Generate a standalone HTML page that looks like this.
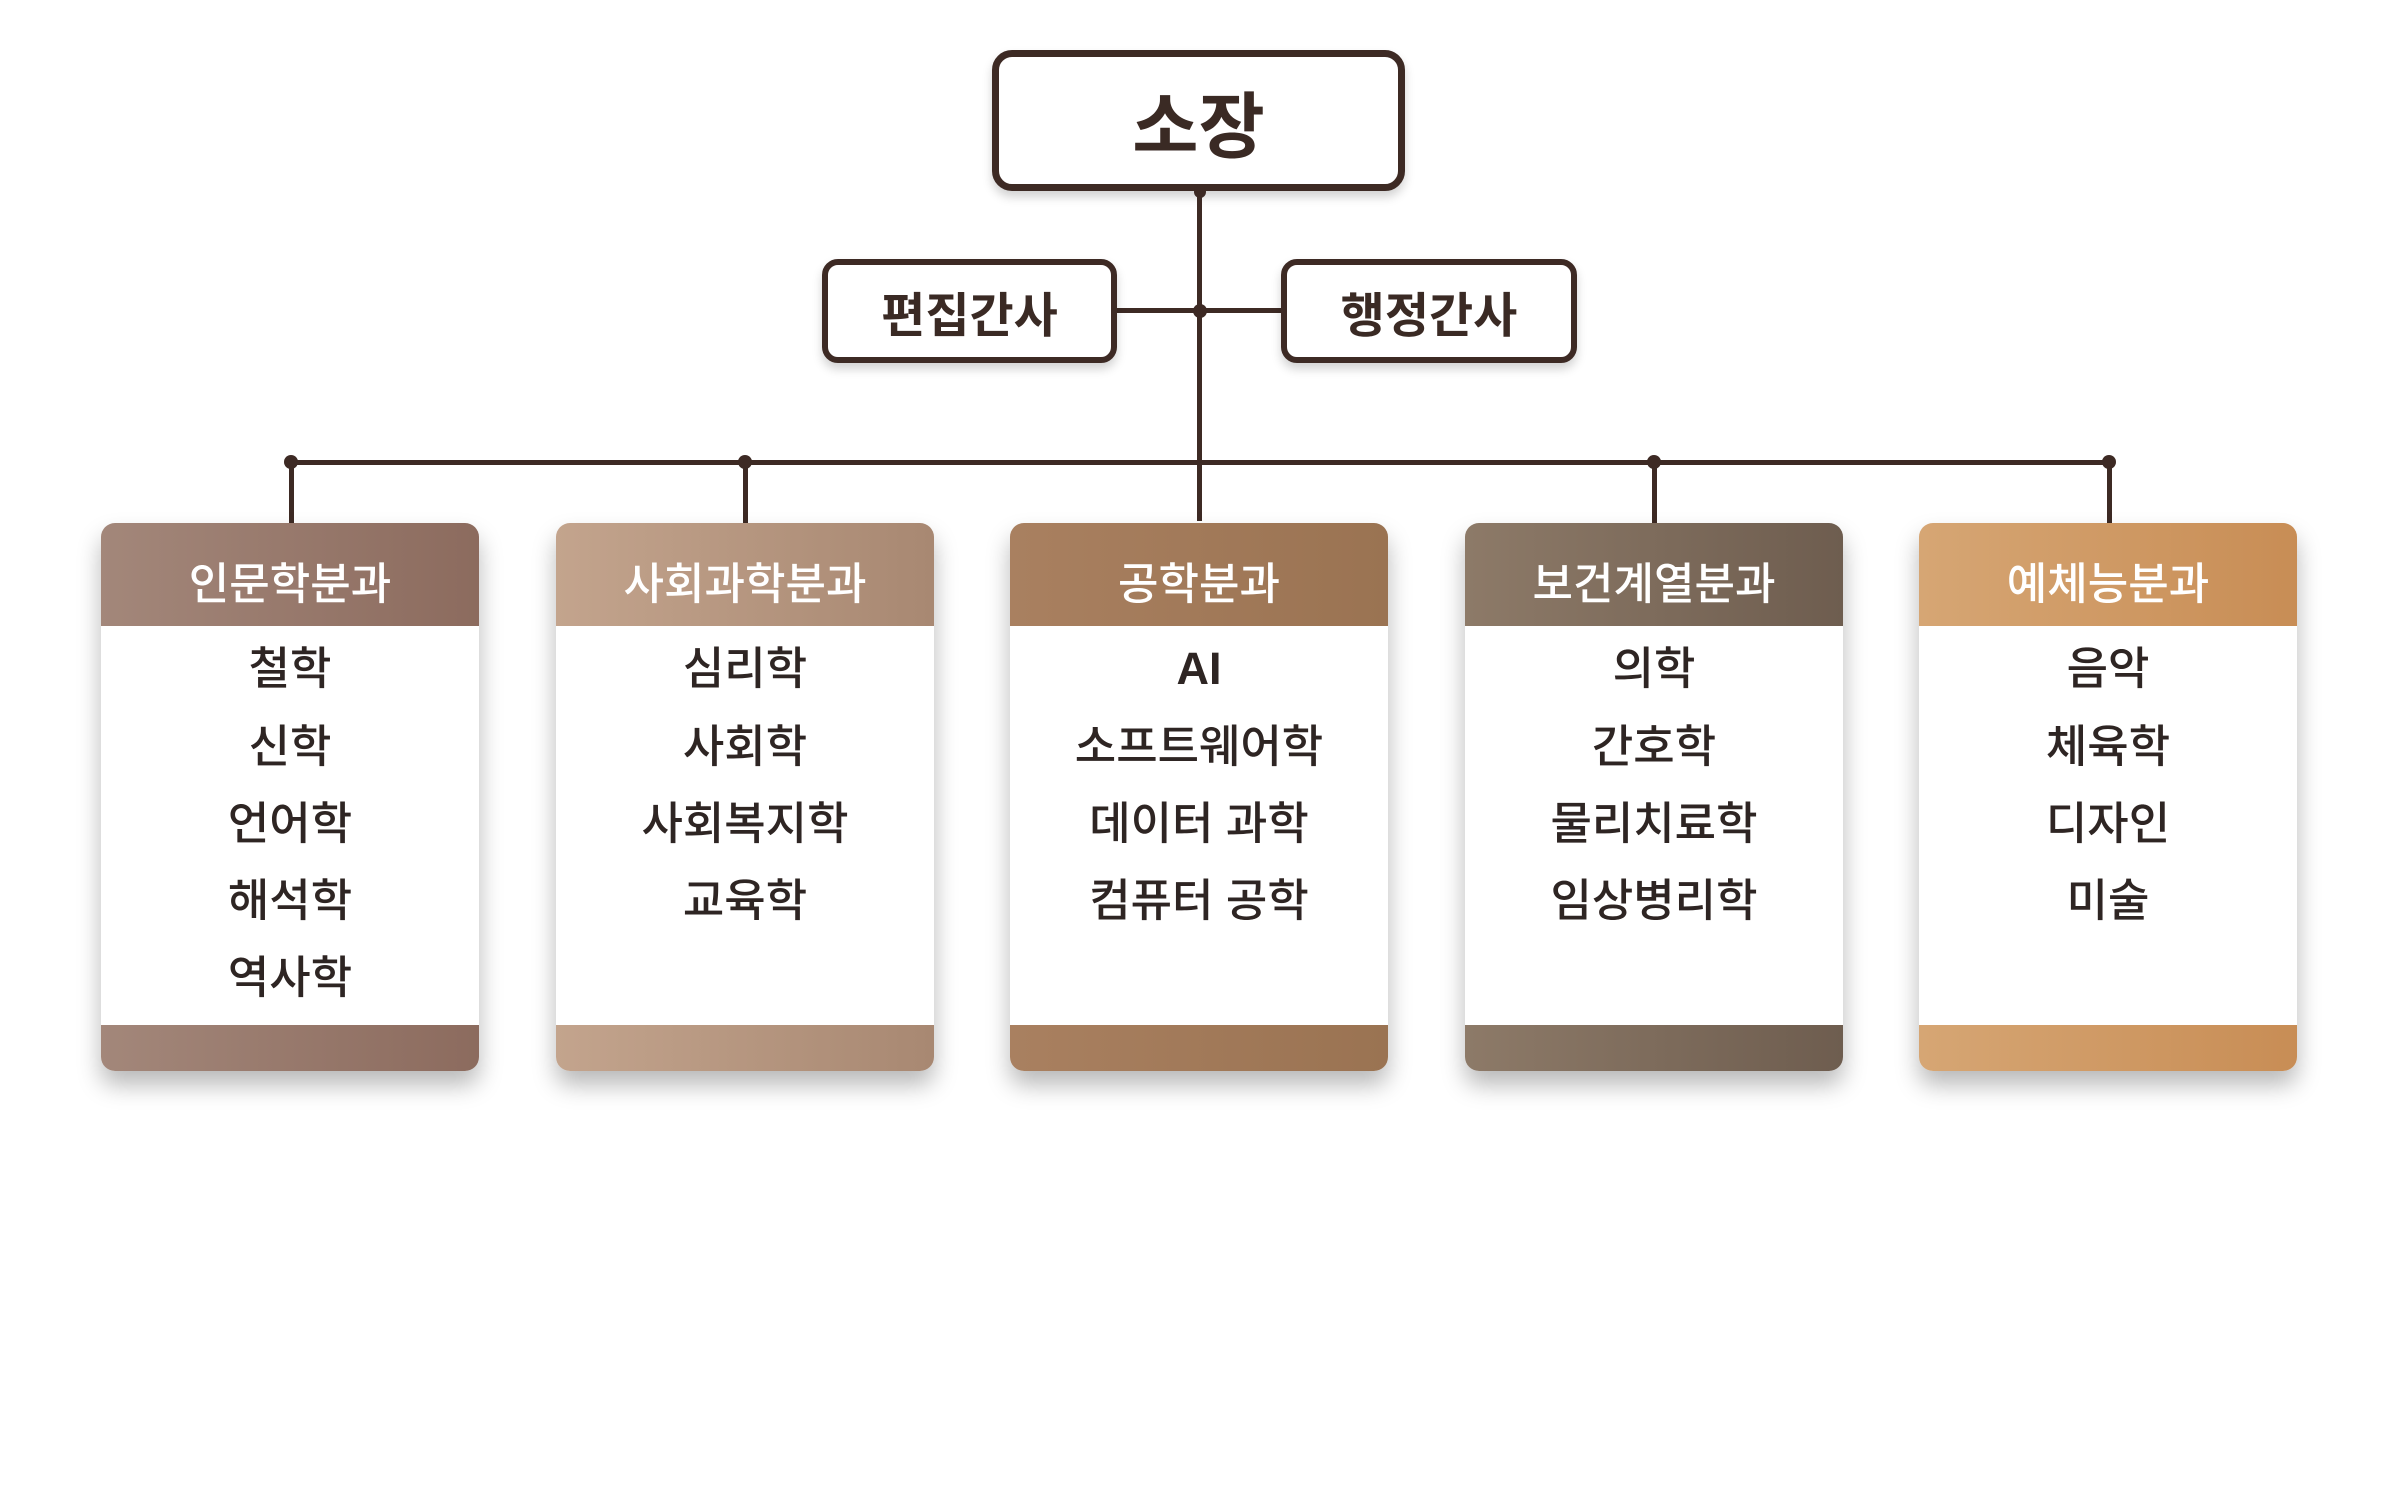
<!DOCTYPE html>
<html><head><meta charset="utf-8"><style>
*{margin:0;padding:0;box-sizing:border-box}
body{width:2400px;height:1500px;background:#fff;position:relative;overflow:hidden;font-family:"Liberation Sans","Noto Sans CJK KR",sans-serif;color:#2b2220}
.box{position:absolute;border:6px solid #3d2a24;border-radius:16px;background:#fff;display:flex;align-items:center;justify-content:center;font-weight:700;color:#3a2a24;box-shadow:0 6px 10px rgba(0,0,0,.18)}
.line{position:absolute;background:#3d2a24}
.dot{position:absolute;width:14px;height:14px;border-radius:50%;background:#3d2a24}
.card{position:absolute;top:523px;width:378px;height:548px;border-radius:14px;overflow:hidden;background:#fff;box-shadow:0 14px 24px rgba(0,0,0,.28)}
.card .h{height:103px;color:#fff;font-size:44px;font-weight:500;display:flex;align-items:center;justify-content:center;padding-top:10px}
.card .f{position:absolute;left:0;right:0;bottom:0;height:46px}
.card .it{position:absolute;left:0;width:100%;text-align:center;font-size:45px;font-weight:500;color:#2e2523;line-height:50px;margin-top:3px}
</style></head><body>
<div class="box" style="left:992px;top:50px;width:413px;height:141px;font-size:72px;border-width:7px;border-radius:20px">소장</div>
<div class="line" style="left:1197px;top:191px;width:5px;height:330px"></div>
<div class="line" style="left:1117px;top:308px;width:164px;height:5px"></div>
<div class="dot" style="left:1193px;top:304px"></div>
<div class="dot" style="left:1194px;top:186px;width:12px;height:12px"></div>
<div class="box" style="left:822px;top:259px;width:295px;height:104px;font-size:48px;font-weight:600">편집간사</div>
<div class="box" style="left:1281px;top:259px;width:296px;height:104px;font-size:48px;font-weight:600">행정간사</div>
<div class="line" style="left:289px;top:460px;width:1822px;height:5px"></div>
<div class="line" style="left:289px;top:460px;width:5px;height:63px"></div>
<div class="line" style="left:743px;top:460px;width:5px;height:63px"></div>
<div class="line" style="left:1652px;top:460px;width:5px;height:63px"></div>
<div class="line" style="left:2107px;top:460px;width:5px;height:63px"></div>
<div class="dot" style="left:284px;top:455px"></div>
<div class="dot" style="left:738px;top:455px"></div>
<div class="dot" style="left:1647px;top:455px"></div>
<div class="dot" style="left:2102px;top:455px"></div>

<div class="card" style="left:101px"><div class="h" style="background:linear-gradient(90deg,#a3877a,#8c6b5e)">인문학분과</div>
<div class="it" style="top:118px">철학</div><div class="it" style="top:196px">신학</div><div class="it" style="top:273px">언어학</div><div class="it" style="top:350px">해석학</div><div class="it" style="top:427px">역사학</div>
<div class="f" style="background:linear-gradient(90deg,#a3877a,#8c6b5e)"></div></div>

<div class="card" style="left:556px"><div class="h" style="background:linear-gradient(90deg,#c3a48d,#a88872)">사회과학분과</div>
<div class="it" style="top:118px">심리학</div><div class="it" style="top:196px">사회학</div><div class="it" style="top:273px">사회복지학</div><div class="it" style="top:350px">교육학</div>
<div class="f" style="background:linear-gradient(90deg,#c3a48d,#a88872)"></div></div>

<div class="card" style="left:1010px"><div class="h" style="background:linear-gradient(90deg,#a98060,#9a7352)">공학분과</div>
<div class="it" style="top:118px;font-weight:700">AI</div><div class="it" style="top:196px">소프트웨어학</div><div class="it" style="top:273px">데이터 과학</div><div class="it" style="top:350px">컴퓨터 공학</div>
<div class="f" style="background:linear-gradient(90deg,#a98060,#9a7352)"></div></div>

<div class="card" style="left:1465px"><div class="h" style="background:linear-gradient(90deg,#8d7a68,#6e5d4f)">보건계열분과</div>
<div class="it" style="top:118px">의학</div><div class="it" style="top:196px">간호학</div><div class="it" style="top:273px">물리치료학</div><div class="it" style="top:350px">임상병리학</div>
<div class="f" style="background:linear-gradient(90deg,#8d7a68,#6e5d4f)"></div></div>

<div class="card" style="left:1919px"><div class="h" style="background:linear-gradient(90deg,#d6a674,#c88d55)">예체능분과</div>
<div class="it" style="top:118px">음악</div><div class="it" style="top:196px">체육학</div><div class="it" style="top:273px">디자인</div><div class="it" style="top:350px">미술</div>
<div class="f" style="background:linear-gradient(90deg,#d6a674,#c88d55)"></div></div>
</body></html>
